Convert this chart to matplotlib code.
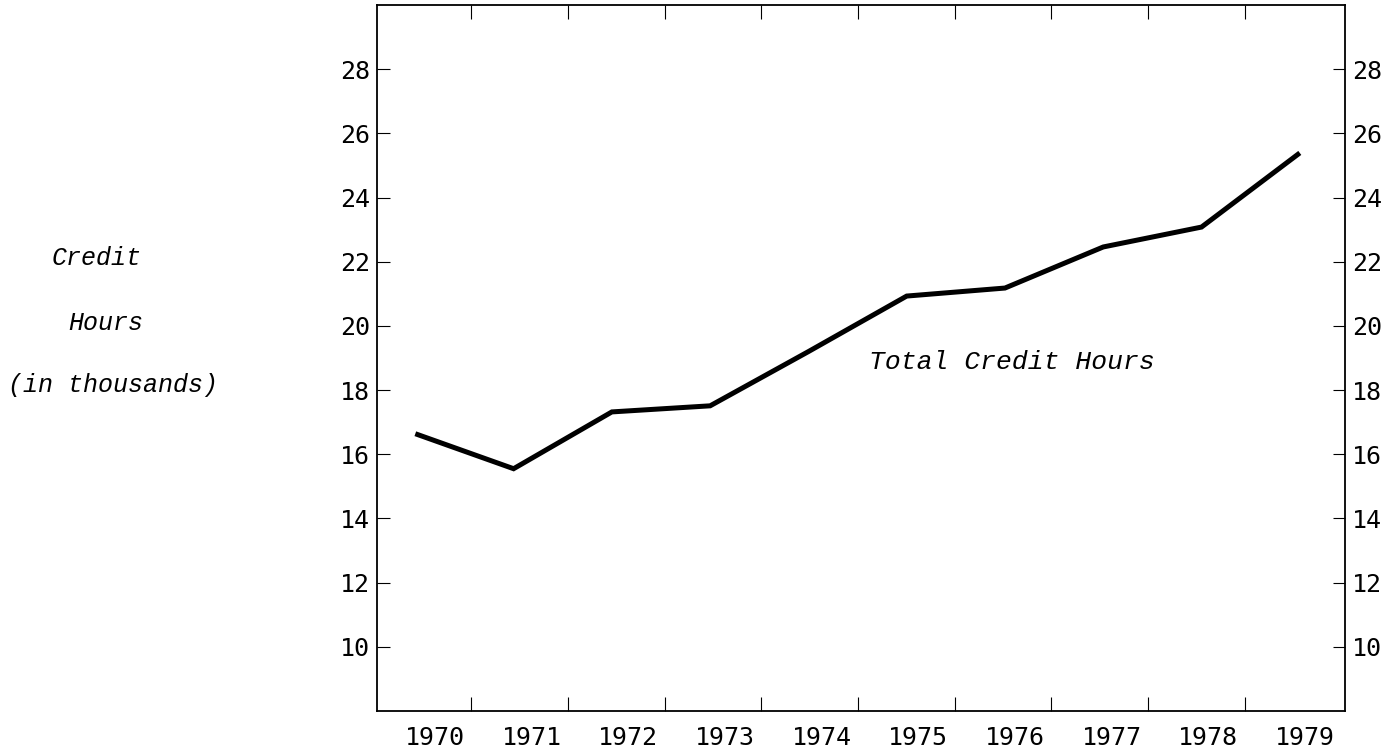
import matplotlib.pyplot as plt
import numpy as np

# total credit hours (thousands)
years = [1970, 1971, 1972, 1973, 1974, 1975, 1976, 1977, 1978, 1979]
credit_hours = [16.64, 15.55, 17.32, 17.51, 19.2, 20.93, 21.18, 22.46, 23.08, 25.39]
year_labels = [str(y) for y in years]
y_ticks = [10, 12, 14, 16, 18, 20, 22, 24, 26, 28]

num_font = 'DejaVu Sans Mono'
txt_font = 'Liberation Mono'

fig = plt.figure(figsize=(13.99, 7.52), dpi=100)
ax = fig.add_axes([377 / 1399, 1 - 711 / 752, (1345 - 377) / 1399, (711 - 5) / 752])

ax.plot(years, credit_hours, color='black', lw=3.6, solid_joinstyle='miter',
        solid_capstyle='butt')

ax.set_xlim(1969.61, 1979.46)
ax.set_ylim(8, 30)

# year labels sit a little right of the data points, ticks fall between labels
label_pos = 1970.2 + (np.array(years) - 1970) * 0.9837
ax.set_xticks(label_pos)
ax.set_xticklabels(year_labels, fontfamily=num_font, fontsize=18)
ax.set_xticks(label_pos[:-1] + 0.37, minor=True)
ax.tick_params(axis='x', which='major', length=0, pad=11)
ax.tick_params(axis='x', which='minor', direction='in', length=10, width=0.8,
               top=True, bottom=True)

ax.set_yticks(y_ticks)
ax.set_yticklabels([str(v) for v in y_ticks], fontfamily=num_font, fontsize=18)
ax.tick_params(axis='y', direction='in', length=9, width=0.8, pad=5,
               left=True, right=True, labelleft=True, labelright=True)
for lab in ax.get_yticklabels(which='both'):
    lab.set_fontfamily(num_font)
    lab.set_fontsize(18)

for s in ax.spines.values():
    s.set_linewidth(1.3)
    s.set_color('black')

# y axis caption, three lines in typewriter italic
fig.text(52 / 1399, 1 - 258 / 752, 'Credit', fontfamily=txt_font, style='italic',
         fontsize=18, ha='left', va='center')
fig.text(68 / 1399, 1 - 323 / 752, 'Hours', fontfamily=txt_font, style='italic',
         fontsize=18, ha='left', va='center')
fig.text(8 / 1399, 1 - 385 / 752, '(in thousands)', fontfamily=txt_font, style='italic',
         fontsize=18, ha='left', va='center')

fig.text(869 / 1399, 1 - 362 / 752, 'Total Credit Hours',
         fontfamily=txt_font, style='italic', fontsize=19, ha='left', va='center')

fig.savefig('out.png', dpi=100)
